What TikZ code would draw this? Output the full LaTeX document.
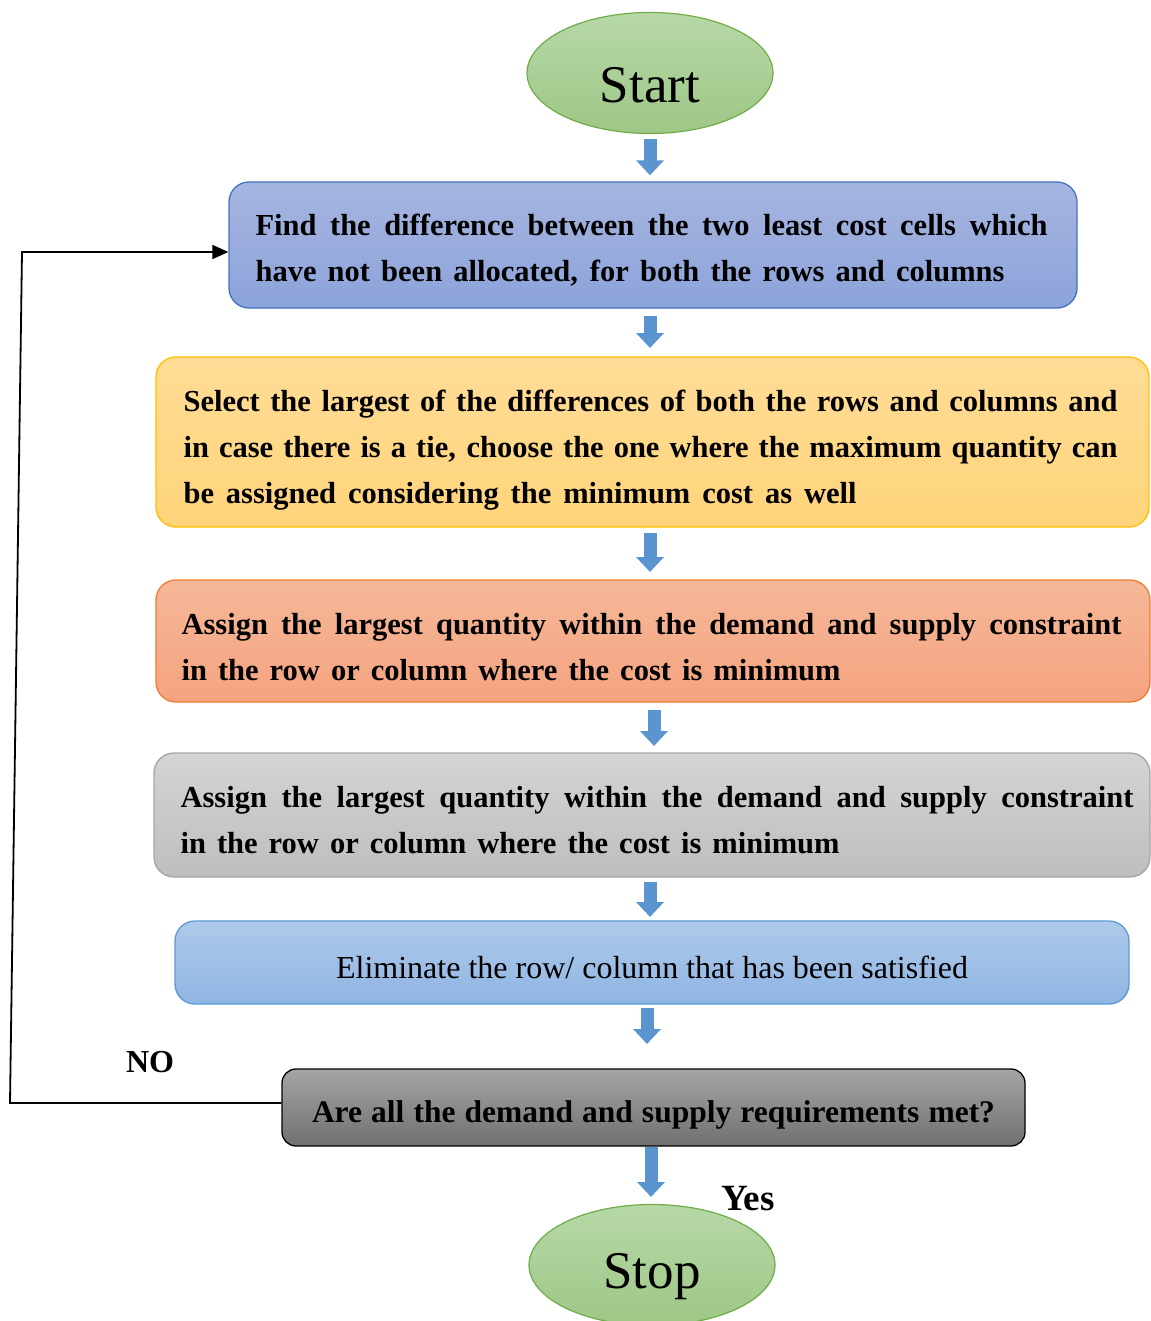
\documentclass[tikz,border=0pt]{standalone}
\usepackage{fontspec}
\setmainfont{Liberation Serif}
\usetikzlibrary{shapes.geometric,arrows.meta,calc}
\definecolor{arrowblue}{HTML}{5B95CF}
\newcommand\jline[2]{\hbox to #1{\spaceskip=0.25em plus 1fil minus 0.12em\relax #2}}
\tikzset{
  term/.style={ellipse, draw={rgb,255:red,112;green,173;blue,71}, line width=1.2pt,
    top color={rgb,255:red,183;green,216;blue,168}, bottom color={rgb,255:red,158;green,199;blue,134},
    minimum width=246pt, minimum height=121pt},
  termtext/.style={font=\fontsize{53}{60}\selectfont, inner sep=0pt},
  boxbase/.style={rectangle, rounded corners=20pt, line width=1.3pt, inner sep=0pt},
  btext/.style={inner sep=0pt, align=left, anchor=west, font=\fontsize{30.5}{46}\bfseries\selectfont},
  blockarr/.style={draw=arrowblue, line width=13pt, -{Triangle[width=27pt,length=15pt]}},
  loopline/.style={line width=1.8pt, black},
  lbl/.style={font=\fontsize{32}{36}\bfseries\selectfont, inner sep=0pt}
}
\begin{document}
\begin{tikzpicture}[x=1pt,y=-1pt]
\useasboundingbox (0,0) rectangle (1150,1321);
\fill[white] (0,0) rectangle (1150,1321);

\node[term] (start) at (650,73) {};
\node[termtext] (starttxt) at ([yshift=-12pt]start.center) {Start};

\node[boxbase, draw={rgb,255:red,68;green,114;blue,196},
  top color={rgb,255:red,166;green,181;blue,224}, bottom color={rgb,255:red,140;green,163;blue,218},
  minimum width=848pt, minimum height=126pt] (b1) at (653,245) {};
\node[btext] (t1) at ([xshift=27pt,yshift=-5pt]b1.west)
  {\jline{792pt}{Find the difference between the two least cost cells which}\\
   \jline{749pt}{have not been allocated, for both the rows and columns}};

\node[boxbase, draw={rgb,255:red,255;green,192;blue,0},
  top color={rgb,255:red,255;green,220;blue,150}, bottom color={rgb,255:red,255;green,212;blue,122},
  minimum width=993pt, minimum height=170pt] (b2) at (652.5,442) {};
\node[btext] (t2) at ([xshift=28pt,yshift=-8pt]b2.west)
  {\jline{934pt}{Select the largest of the differences of both the rows and columns and}\\
   \jline{934pt}{in case there is a tie, choose the one where the maximum quantity can}\\
   \jline{673pt}{be assigned considering the minimum cost as well}};

\node[boxbase, draw={rgb,255:red,237;green,125;blue,49},
  top color={rgb,255:red,245;green,184;blue,152}, bottom color={rgb,255:red,245;green,163;blue,128},
  minimum width=994pt, minimum height=122pt] (b3) at (653,641) {};
\node[btext] (t3) at ([xshift=26pt,yshift=-6pt]b3.west)
  {\jline{940pt}{Assign the largest quantity within the demand and supply constraint}\\
   \jline{659pt}{in the row or column where the cost is minimum}};

\node[boxbase, draw={rgb,255:red,165;green,165;blue,165},
  top color={rgb,255:red,212;green,212;blue,212}, bottom color={rgb,255:red,190;green,190;blue,190},
  minimum width=996pt, minimum height=124pt] (b4) at (652,815) {};
\node[btext] (t4) at ([xshift=27pt,yshift=-5pt]b4.west)
  {\jline{953pt}{Assign the largest quantity within the demand and supply constraint}\\
   \jline{659pt}{in the row or column where the cost is minimum}};

\node[boxbase, draw={rgb,255:red,91;green,155;blue,213},
  top color={rgb,255:red,174;green,201;blue,234}, bottom color={rgb,255:red,143;green,181;blue,227},
  minimum width=954pt, minimum height=83pt] (b5) at (652,962.5) {};
\node[inner sep=0pt, font=\fontsize{32}{38}\selectfont] (t5) at ([yshift=-5pt]b5.center)
  {Eliminate the row/ column that has been satisfied};

\node[boxbase, draw=black, rounded corners=14pt,
  top color={rgb,255:red,165;green,165;blue,165}, bottom color={rgb,255:red,112;green,112;blue,112},
  minimum width=743pt, minimum height=77pt] (q) at (653.5,1107.5) {};
\node[inner sep=0pt, font=\fontsize{31.5}{38}\bfseries\selectfont] (t6) at ([yshift=-7pt]q.center)
  {\jline{683pt}{Are all the demand and supply requirements met?}};

\node[term] (stop) at (652,1265) {};
\node[termtext] (stoptxt) at ([yshift=-12pt]stop.center) {Stop};

\draw[blockarr, shorten <=5pt, shorten >=6pt] (start.south) -- (start.south |- b1.north);
\draw[blockarr, shorten <=7pt, shorten >=9pt] (b1.south -| 650,0) -- (650,357);
\draw[blockarr, shorten <=6pt, shorten >=8pt] (650,527) -- (650,580);
\draw[blockarr, shorten <=8pt, shorten >=7pt] (654,702) -- (654,753);
\draw[blockarr, shorten <=5pt, shorten >=4pt] (650,877) -- (650,921);
\draw[blockarr, shorten <=4pt, shorten >=25pt] (647,1004) -- (647,1069);
\draw[blockarr, shorten <=1pt, shorten >=5pt] (651,1146) -- (651,1202);

\coordinate (l1) at (10,1103);
\coordinate (l2) at (22,252);
\draw[loopline, -{Triangle[width=14pt,length=16pt]}]
  ([yshift=4.5pt]q.west) -- (l1) -- (l2) -- (l2 -| b1.west);

\node[lbl] (no) at (150,1062) {NO};
\node[lbl, font=\fontsize{37}{40}\bfseries\selectfont] (yes) at (748,1199) {Yes};
\end{tikzpicture}
\end{document}
